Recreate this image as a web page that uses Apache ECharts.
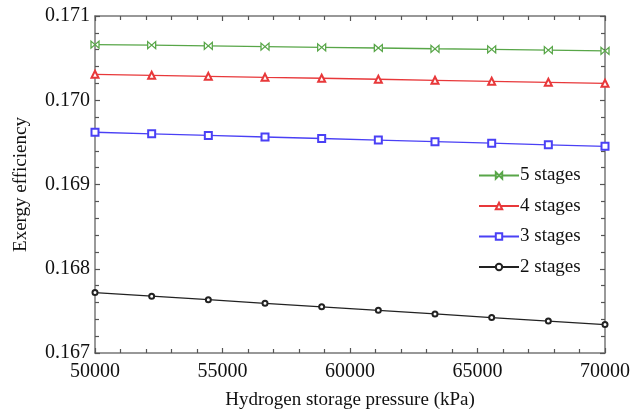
<!DOCTYPE html>
<html>
<head>
<meta charset="utf-8">
<script src="https://cdn.jsdelivr.net/npm/echarts@6/dist/echarts.min.js"></script>
<style>html,body{margin:0;padding:0;background:#fff;}#c{width:633px;height:419px;}</style>
</head>
<body>
<div id="c"></div>
<script>
var pressure = [50000, 52222, 54444, 56667, 58889, 61111, 63333, 65556, 67778, 70000];
var stages5 = [0.170661, 0.170654, 0.170645, 0.170637, 0.170628, 0.170620, 0.170611, 0.170603, 0.170594, 0.170585];
var stages4 = [0.170308, 0.170296, 0.170284, 0.170272, 0.170261, 0.170249, 0.170237, 0.170225, 0.170213, 0.170201];
var stages3 = [0.169620, 0.169601, 0.169583, 0.169564, 0.169546, 0.169527, 0.169508, 0.169490, 0.169471, 0.169453];
var stages2 = [0.167717, 0.167675, 0.167633, 0.167590, 0.167548, 0.167506, 0.167464, 0.167421, 0.167379, 0.167337];
var seriesNames = ['5 stages', '4 stages', '3 stages', '2 stages'];
var xTitle = 'Hydrogen storage pressure (kPa)';
var yTitle = 'Exergy efficiency';

function pairs(ys){ return pressure.map(function(x,i){ return [x, ys[i]]; }); }

var font = "'Liberation Serif', 'DejaVu Serif', serif";
var axisCol = '#777';

function baseAxis(extra){
  var a = {
    axisLine: {show: true, onZero: false, lineStyle: {color: axisCol, width: 1.5}},
    axisTick: {show: true, inside: true, length: 5, lineStyle: {color: '#555', width: 1.2}},
    minorTick: {show: true, splitNumber: 5, length: 4, lineStyle: {color: '#555', width: 1.2}},
    splitLine: {show: false},
    minorSplitLine: {show: false}
  };
  for (var k in extra) a[k] = extra[k];
  return a;
}

var chart = echarts.init(document.getElementById('c'), null, {renderer: 'canvas'});
var bowtie = 'path://M0,0L10,10L10,0L0,10Z';
var colors = ['#58a648', '#e8383a', '#4a40f5', '#222222'];
var symbols = [bowtie, 'emptyTriangle', 'emptyRect', 'emptyCircle'];
var symSizes = [[8,7], 7, 7, 5];
var data = [stages5, stages4, stages3, stages2];

var series = data.map(function(d, i){
  return {
    name: seriesNames[i],
    type: 'line',
    data: pairs(d),
    symbol: symbols[i],
    symbolSize: symSizes[i],
    showAllSymbol: true,
    lineStyle: {color: colors[i], width: 1.3},
    itemStyle: {color: i === 0 ? '#fff' : colors[i], borderColor: colors[i], borderWidth: 1.2},
    color: colors[i],
    animation: false
  };
});

chart.setOption({
  backgroundColor: '#fff',
  animation: false,
  grid: {left: 95, right: 27, top: 16, bottom: 66, containLabel: false},
  legend: {
    orient: 'vertical',
    left: 473,
    top: 161,
    itemWidth: 40,
    itemHeight: 8,
    itemGap: 11.5,
    data: seriesNames,
    textStyle: {fontFamily: font, fontSize: 19, color: '#111', padding: [0,0,0,-4]}
  },
  xAxis: [
    baseAxis({type: 'value', min: 50000, max: 70000, interval: 5000, position: 'bottom',
      name: xTitle, nameLocation: 'middle', nameGap: 38,
      nameTextStyle: {fontFamily: font, fontSize: 19, color: '#111'},
      axisLabel: {fontFamily: font, fontSize: 20, color: '#111', margin: 9,
        formatter: function(v){ return String(v); }}}),
    baseAxis({type: 'value', min: 50000, max: 70000, interval: 5000, position: 'top',
      axisLabel: {show: false}})
  ],
  yAxis: [
    baseAxis({type: 'value', min: 0.167, max: 0.171, interval: 0.001, position: 'left',
      name: yTitle, nameLocation: 'middle', nameGap: 64,
      nameTextStyle: {fontFamily: font, fontSize: 19, color: '#111'},
      axisLabel: {fontFamily: font, fontSize: 20, color: '#111', margin: 5,
        formatter: function(v){ return v.toFixed(3); }}}),
    baseAxis({type: 'value', min: 0.167, max: 0.171, interval: 0.001, position: 'right',
      axisLabel: {show: false}})
  ],
  series: series
});
</script>
</body>
</html>
